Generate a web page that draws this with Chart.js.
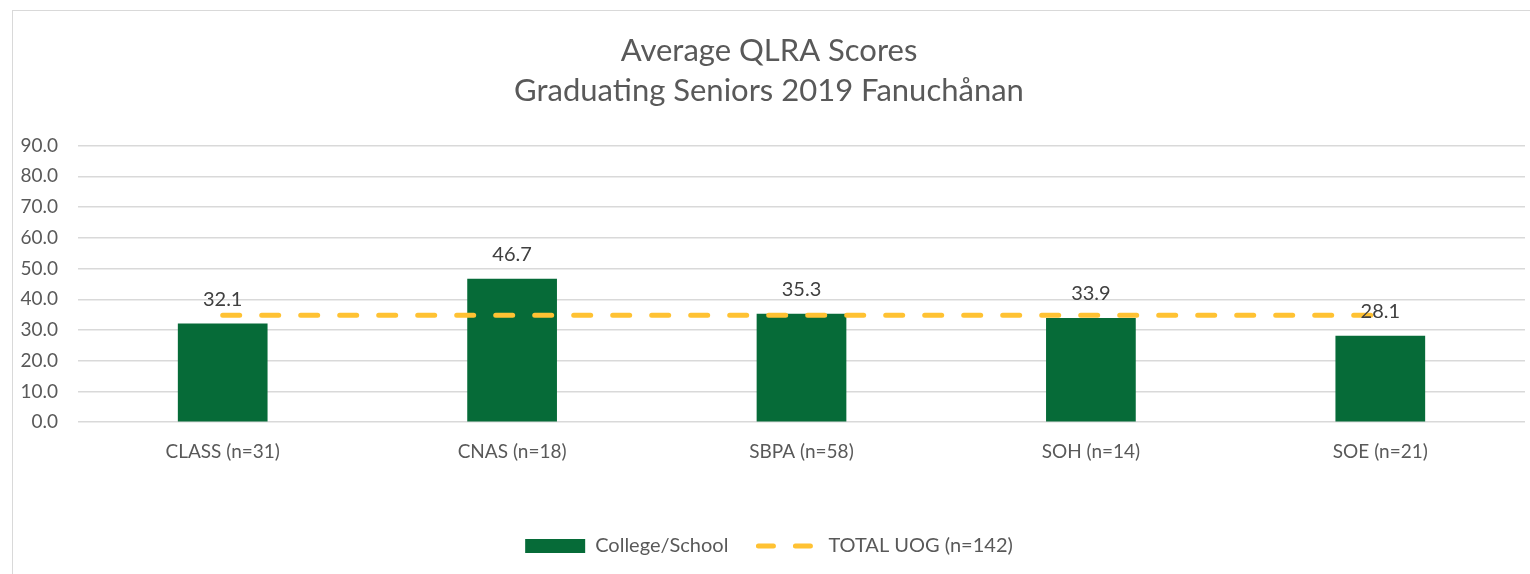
<!DOCTYPE html>
<html lang="en">
<head>
    <meta charset="UTF-8">
    <title>Average QLRA Scores</title>
    <script src="https://cdn.jsdelivr.net/npm/chart.js"></script>
    <style>
        body {
            margin: 0;
            padding: 0;
            background-color: white;
        }

        .chart-box {
            position: relative;
            box-sizing: border-box;
            border-left: 1px solid #d9d9d9;
            border-top: 1px solid #d9d9d9;
            margin-left: 12px;
            margin-top: 10px;
            width: 1518px;
            height: 564px;
        }
    </style>
</head>
<body>
    <div class="chart-box">
        <canvas id="qlraChart"></canvas>
    </div>

    <script>
        // Data
        var schools = ['CLASS (n=31)', 'CNAS (n=18)', 'SBPA (n=58)', 'SOH (n=14)', 'SOE (n=21)'];
        var schoolScores = [32.1, 46.7, 35.3, 33.9, 28.1];
        var totalScores = [34.8, 34.8, 34.8, 34.8, 34.8];
        var yTicks = [0, 10, 20, 30, 40, 50, 60, 70, 80, 90];

        var green = '#066B38';
        var gold = '#FFC233';
        var textGrey = '#595959';
        var fontFamily = 'Lato, "Open Sans", sans-serif';

        // Draws the value above each bar
        var barLabels = {
            id: 'barLabels',
            afterDatasetsDraw: function (chart) {
                var ctx = chart.ctx;
                var meta = chart.getDatasetMeta(1);
                ctx.save();
                ctx.font = '20px ' + fontFamily;
                ctx.fillStyle = '#404040';
                ctx.textAlign = 'center';
                ctx.textBaseline = 'middle';
                meta.data.forEach(function (bar, i) {
                    ctx.fillText(schoolScores[i].toFixed(1), bar.x, bar.y - 24);
                });
                ctx.restore();
            }
        };

        var ctx = document.getElementById('qlraChart').getContext('2d');
        var qlraChart = new Chart(ctx, {
            type: 'bar',
            data: {
                labels: schools,
                datasets: [{
                    type: 'line',
                    label: 'TOTAL UOG (n=142)',
                    data: totalScores,
                    borderColor: gold,
                    backgroundColor: gold,
                    borderWidth: 5,
                    borderDash: [17, 22],
                    borderCapStyle: 'round',
                    pointRadius: 0,
                    fill: false,
                    order: 0
                }, {
                    label: 'College/School',
                    data: schoolScores,
                    backgroundColor: green,
                    categoryPercentage: 0.31,
                    barPercentage: 1.0,
                    order: 1
                }]
            },
            options: {
                responsive: true,
                maintainAspectRatio: false,
                animation: false,
                layout: {
                    padding: { left: 0, right: 5, top: 20, bottom: 8 }
                },
                scales: {
                    x: {
                        grid: { display: false },
                        border: { display: false },
                        ticks: {
                            color: textGrey,
                            font: { size: 19, family: fontFamily },
                            padding: 10
                        },
                        afterFit: function (axis) {
                            axis.height += 33;
                        }
                    },
                    y: {
                        min: 0,
                        max: 90,
                        afterBuildTicks: function (axis) {
                            axis.ticks = yTicks.map(function (v) { return { value: v }; });
                        },
                        afterFit: function (axis) {
                            axis.width = 65;
                        },
                        grid: { color: '#d9d9d9', lineWidth: 1.5, drawTicks: false },
                        border: { display: false },
                        ticks: {
                            color: textGrey,
                            font: { size: 19, family: fontFamily },
                            padding: 20,
                            callback: function (v) { return v.toFixed(1); }
                        }
                    }
                },
                plugins: {
                    title: {
                        display: true,
                        text: ['Average QLRA Scores', 'Graduating Seniors 2019 Fanuchånan'],
                        color: textGrey,
                        font: { size: 31, weight: 'normal', family: fontFamily, lineHeight: 1.3 },
                        padding: { top: 0, bottom: 34 }
                    },
                    legend: {
                        position: 'bottom',
                        labels: {
                            color: textGrey,
                            font: { size: 20, family: fontFamily },
                            usePointStyle: true,
                            pointStyleWidth: 60,
                            boxWidth: 60,
                            boxHeight: 14,
                            padding: 30,
                            generateLabels: function (chart) {
                                return [{
                                    text: 'College/School',
                                    fillStyle: green,
                                    strokeStyle: green,
                                    lineWidth: 0,
                                    pointStyle: 'rect',
                                    fontColor: textGrey,
                                    datasetIndex: 1
                                }, {
                                    text: 'TOTAL UOG (n=142)',
                                    fillStyle: gold,
                                    strokeStyle: gold,
                                    lineWidth: 5,
                                    lineDash: [15, 22],
                                    lineCap: 'round',
                                    pointStyle: 'line',
                                    fontColor: textGrey,
                                    datasetIndex: 0
                                }];
                            }
                        }
                    },
                    tooltip: { enabled: false }
                }
            },
            plugins: [barLabels]
        });
    </script>
</body>
</html>
